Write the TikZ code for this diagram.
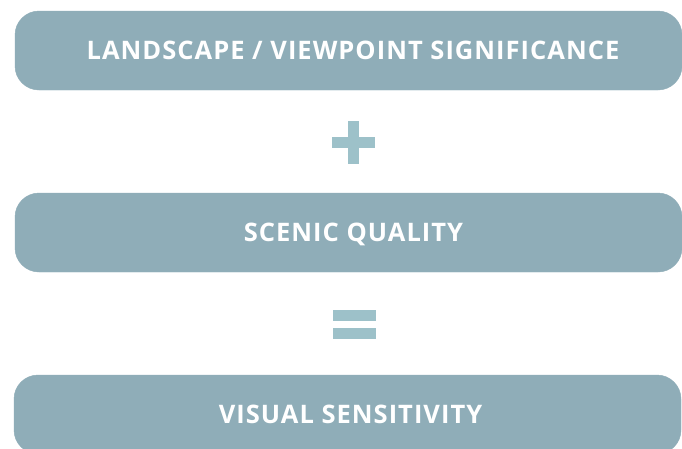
\documentclass[tikz,border=0pt]{standalone}
\usepackage{fontspec}
\setmainfont[LetterSpace=4]{Open Sans}
\definecolor{boxc}{HTML}{8FADB8}
\definecolor{signc}{HTML}{9DC1C9}
\begin{document}
\begin{tikzpicture}[x=1pt,y=-1pt,
  bar/.style={boxc,rounded corners=24pt,fill=boxc},
  lbl/.style={text=white,anchor=base,inner sep=0pt,font=\fontsize{25.5}{30}\selectfont\bfseries},
  sign/.style={fill=signc}]
\useasboundingbox[clip] (0,0) rectangle (682,448);
\fill[white] (0,0) rectangle (682,448);
\draw[bar] (15,11) rectangle (682,90);
\draw[bar] (15,193) rectangle (682,272);
\draw[bar] (14,375) rectangle (681,454);
\node[lbl] (t1) at (353,59.5) {LANDSCAPE / VIEWPOINT SIGNIFICANCE};
\node[lbl] (t2) at (353.5,241.5) {SCENIC QUALITY};
\node[lbl] (t3) at (350.5,423.5) {VISUAL SENSITIVITY};
\fill[sign] (348,121) rectangle (359,164);
\fill[sign] (332,137) rectangle (375,148);
\fill[sign] (333,310) rectangle (376,321);
\fill[sign] (333,328) rectangle (376,339);
\end{tikzpicture}
\end{document}
